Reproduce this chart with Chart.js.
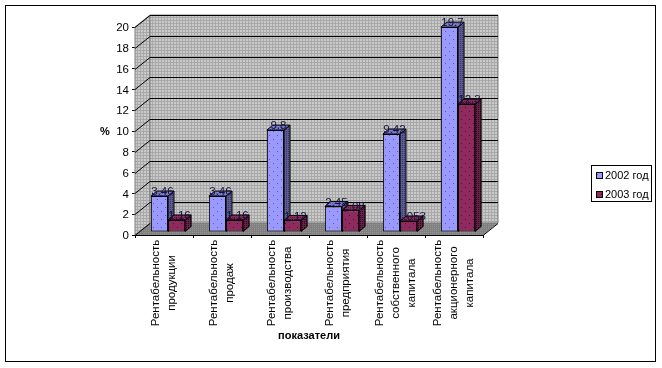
<!DOCTYPE html>
<html><head><meta charset="utf-8">
<style>html,body{margin:0;padding:0;background:#fff}canvas{display:block}</style>
<script src="https://cdn.jsdelivr.net/npm/chart.js@4"></script>
</head><body><canvas id="c" width="662" height="368"></canvas>
<script>
const categories = [
  ["Рентабельность","продукции"],
  ["Рентабельность","продаж"],
  ["Рентабельность","производства"],
  ["Рентабельность","предприятия"],
  ["Рентабельность","собственного","капитала"],
  ["Рентабельность","акционерного","капитала"]
];
const series2002 = [3.46, 3.46, 9.8, 2.45, 9.42, 19.7];
const series2003 = [1.16, 1.16, 1.12, 2.08, 1.053, 12.3];
const seriesNames = ["2002 год", "2003 год"];
const yTicksMax = 20, yStep = 2;
const FONT = '"Liberation Sans", Arial, sans-serif';

function tile(w, h, bg, dots, fg) {
  const t = document.createElement('canvas'); t.width = w; t.height = h;
  const g = t.getContext('2d'); g.fillStyle = bg; g.fillRect(0,0,w,h);
  g.fillStyle = fg; dots.forEach(d => g.fillRect(d[0], d[1], 1, 1));
  return g.createPattern(t, 'repeat');
}
const pg = document.getElementById('c').getContext('2d');
const wallFill = tile(3,3,'#a8a8a8',[[0,0],[1,0],[0,1],[1,1]],'#cacaca');
const floorFill = tile(2,2,'#808080',[[0,0]],'#949494');
const front = [
  tile(8,8,'#9999ff',[[1,2],[5,6]],'#5a5ab4'),
  tile(8,8,'#8e2a5e',[[1,2],[5,6]],'#4a1030')
];
const side = [
  tile(2,2,'#5c5c90',[[0,0]],'#38386c'),
  tile(2,2,'#6a1f48',[[0,0]],'#2c0a1e')
];
const topF = [
  tile(2,2,'#7c7cd0',[[0,0]],'#5c5ca0'),
  tile(2,2,'#8a2a5c',[[0,0]],'#5a1838')
];
const DX = 15, DY = 12;        // wall depth
const BX = 4, BY = 3;          // bar inset from the front plane
const SX = 6, SY = 5;          // bar depth

function poly(ctx, pts, fill, stroke) {
  ctx.beginPath();
  pts.forEach((p,i) => i ? ctx.lineTo(p[0],p[1]) : ctx.moveTo(p[0],p[1]));
  ctx.closePath();
  if (fill) { ctx.fillStyle = fill; ctx.fill(); }
  if (stroke) { ctx.strokeStyle = stroke; ctx.lineWidth = 1; ctx.stroke(); }
}
function faces(chart, i) {
  const ctx = chart.ctx;
  chart.getDatasetMeta(i).data.forEach(el => {
    const x0 = el.x - el.width/2, x1 = el.x + el.width/2, t = el.y, b = el.base;
    poly(ctx, [[x1,b],[x1+SX,b-SY],[x1+SX,t-SY],[x1,t]], side[i], '#000');
    poly(ctx, [[x0,t],[x1,t],[x1+SX,t-SY],[x0+SX,t-SY]], topF[i], '#000');
  });
}

const scene = {
  id: 'scene',
  beforeDraw(chart) {
    const ctx = chart.ctx;
    ctx.save();
    ctx.fillStyle = '#fff'; ctx.fillRect(0,0,662,368);
    ctx.strokeStyle = '#000'; ctx.lineWidth = 1;
    ctx.strokeRect(5.5,5.5,650,356);
    ctx.restore();
  },
  beforeDatasetsDraw(chart) {
    const ctx = chart.ctx, a = chart.chartArea, y = chart.scales.y;
    ctx.save();
    const l=a.left, r=a.right, t=a.top, b=a.bottom;
    poly(ctx, [[l,b],[l+DX,b-DY],[l+DX,t-DY],[l,t]], wallFill, '#808080');
    poly(ctx, [[l+DX,b-DY],[r+DX,b-DY],[r+DX,t-DY],[l+DX,t-DY]], wallFill, '#808080');
    poly(ctx, [[l,b],[r,b],[r+DX,b-DY],[l+DX,b-DY]], floorFill, null);
    ctx.strokeStyle = '#000'; ctx.lineWidth = 1;
    y.ticks.forEach(tk => {
      if (tk.value === 0) return;
      const py = Math.round(y.getPixelForValue(tk.value)) + 0.5;
      ctx.beginPath();
      ctx.moveTo(l, py); ctx.lineTo(l+DX, py-DY); ctx.lineTo(r+DX, py-DY);
      ctx.stroke();
    });
    ctx.beginPath(); ctx.moveTo(l,b+.5); ctx.lineTo(l+DX,b-DY+.5); ctx.stroke();
    ctx.beginPath(); ctx.moveTo(r,b+.5); ctx.lineTo(r+DX,b-DY+.5); ctx.stroke();
    ctx.restore();
  },
  // The library paints the last dataset first, so the 2002 side faces go
  // underneath the 2003 fronts here, before either set of fronts is painted.
  beforeDatasetDraw(chart, args) {
    const ctx = chart.ctx;
    ctx.save();
    ctx.translate(BX, -BY);
    if (args.index === 1) { faces(chart, 0); faces(chart, 1); }
  },
  afterDatasetDraw(chart) { chart.ctx.restore(); },
  afterDatasetsDraw(chart) {
    const ctx = chart.ctx;
    ctx.save();
    ctx.font = '11.5px ' + FONT; ctx.textAlign = 'center'; ctx.textBaseline = 'middle';
    ctx.fillStyle = '#14143c';
    chart.data.datasets.forEach((ds, i) => {
      chart.getDatasetMeta(i).data.forEach((el, j) => {
        ctx.fillText(String(ds.data[j]), el.x + BX + 3, el.y - BY - 4);
      });
    });
    ctx.restore();
  },
  afterDraw(chart) {
    const ctx = chart.ctx, x = chart.scales.x, y = chart.scales.y;
    ctx.save();
    ctx.fillStyle = '#000'; ctx.textBaseline = 'middle';
    ctx.font = '11.5px ' + FONT; ctx.textAlign = 'center';
    chart.data.labels.forEach((lines, i) => {
      const cx = x.getPixelForTick(i);
      lines.forEach((s, k) => {
        ctx.save();
        ctx.translate(cx + 16*(k-(lines.length-1)/2) - 0.5, 283);
        ctx.rotate(-Math.PI/2);
        ctx.fillText(s, 0, 0);
        ctx.restore();
      });
    });
    ctx.font = 'bold 11px ' + FONT;
    ctx.fillText('%', 105, y.getPixelForValue(10) + 1);
    ctx.fillStyle = '#fff'; ctx.strokeStyle = '#000'; ctx.lineWidth = 1;
    ctx.fillRect(591.5,165.5,60,36); ctx.strokeRect(591.5,165.5,60,36);
    ctx.textAlign = 'left'; ctx.font = '11px ' + FONT;
    chart.data.datasets.forEach((ds, i) => {
      const sy = 172 + i*19;
      ctx.fillStyle = front[i]; ctx.fillRect(596.5, sy+.5, 6, 6);
      ctx.strokeRect(596.5, sy+.5, 6, 6);
      ctx.fillStyle = '#000';
      ctx.fillText(ds.label, 605, sy + 3.5);
    });
    ctx.restore();
  }
};

new Chart(pg, {
  type: 'bar',
  data: {
    labels: categories,
    datasets: [
      { label: seriesNames[0], data: series2002, backgroundColor: front[0], borderColor: '#000', borderWidth: 1, borderSkipped: false, clip: false },
      { label: seriesNames[1], data: series2003, backgroundColor: front[1], borderColor: '#000', borderWidth: 1, borderSkipped: false, clip: false }
    ]
  },
  plugins: [scene],
  options: {
    responsive: false, animation: false, events: [],
    layout: { padding: { left: 95, right: 179, top: 27, bottom: 23 } },
    datasets: { bar: { categoryPercentage: 0.59, barPercentage: 1 } },
    plugins: { legend: { display: false }, tooltip: { enabled: false } },
    scales: {
      x: {
        afterFit(s) { s.height = 110; },
        grid: { drawOnChartArea: false, color: '#000', tickLength: 3 },
        border: { color: '#000' },
        ticks: { display: false },
        title: { display: true, text: 'показатели', color: '#000', padding: { top: 2, bottom: 2 }, font: { family: FONT, size: 11, weight: 'bold' } }
      },
      y: {
        min: 0, max: yTicksMax,
        afterFit(s) { s.width = 40; },
        grid: { drawOnChartArea: false, color: '#000', tickLength: 3 },
        border: { color: '#000' },
        ticks: { stepSize: yStep, color: '#000', padding: 3, labelOffset: 1, font: { family: FONT, size: 11.5 } }
      }
    }
  }
});
</script></body></html>
